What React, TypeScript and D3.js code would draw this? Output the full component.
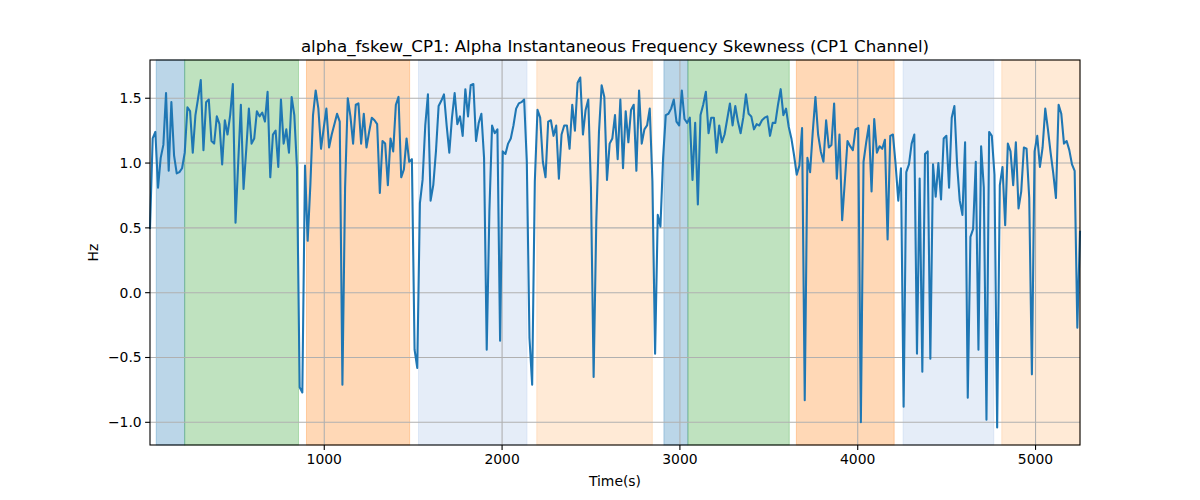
import { useEffect, useRef } from "react";
import * as d3 from "d3";

// sampled values, evenly spaced in time from T_START to T_END
const T_START = 20;
const T_END = 5250;

const skewValues: number[] = [
    0.50, 1.19, 1.24, 0.81, 1.04, 1.14, 1.54, 0.94, 1.47, 1.06, 0.92, 0.93, 0.96, 1.08, 1.43, 1.40,
    1.08, 1.37, 1.50, 1.64, 1.10, 1.47, 1.49, 1.17, 1.15, 1.36, 1.30, 0.99, 1.33, 1.22, 1.37, 1.61,
    0.54, 1.00, 1.45, 0.80, 1.10, 1.42, 1.15, 1.19, 1.40, 1.36, 1.39, 1.32, 1.55,
    0.89, 1.22, 1.25, 0.97, 1.49, 1.15, 1.26, 1.08, 1.51, 1.37, 0.96, -0.73, -0.77, 0.98, 0.40, 0.83,
    1.37, 1.56, 1.42, 1.11, 1.27, 1.42, 1.12, 1.22, 1.30, 1.38, 1.32, -0.71, 0.81, 1.50, 1.36, 1.15,
    1.45, 1.46, 1.15, 1.38, 1.12, 1.24, 1.35, 1.33, 1.30, 0.77, 1.17,
    1.15, 0.83, 1.19, 1.09, 1.45, 1.51, 0.89, 0.95, 1.19, 1.01, 1.03, -0.44, -0.58, 0.69, 0.87, 1.29,
    1.53, 0.71, 0.83, 1.09, 1.44, 1.48, 1.53, 1.29, 1.08, 1.35, 1.54, 1.30, 1.36, 1.21, 1.57, 1.36,
    1.60, 1.61, 1.17, 1.31, 1.38, 1.04, -0.44, 0.63, 1.29, 1.23, 1.26,
    -0.37, 1.09, 1.07, 1.15, 1.19, 1.29, 1.42, 1.46, 1.47, 1.49, 1.01, -0.35, -0.71, 0.86, 1.41, 1.35,
    1.01, 0.89, 1.32, 1.33, 1.21, 1.29, 0.88, 1.22, 1.29, 1.29, 1.11, 1.45, 1.25, 1.62, 1.66, 1.22,
    1.41, 1.49, 0.81, -0.65, 0.55, 1.24, 1.60, 1.51, 0.87, 1.15, 1.19, 1.37,
    1.03, 1.49, 0.96, 1.40, 1.16, 1.41, 1.45, 0.94, 1.56, 1.15, 1.26, 1.29, 1.42, 0.86, -0.47, 0.60,
    0.51, 1.04, 1.37, 1.38, 1.42, 1.49, 1.32, 1.29, 1.56, 1.34, 1.31, 1.35, 0.87, 1.31, 0.68, 1.37,
    1.45, 1.55, 1.23, 1.35, 1.35, 1.08, 1.29, 1.16, 1.22, 1.34, 1.46,
    1.29, 1.44, 1.32, 1.23, 1.35, 1.53, 1.38, 1.36, 1.26, 1.30, 1.29, 1.33, 1.35, 1.36, 1.21, 1.31,
    1.31, 1.45, 1.57, 1.37, 1.42, 1.28, 1.19, 1.06, 0.91, 0.98, 1.27, -0.83, 1.04, 0.93, 1.24, 1.51,
    1.22, 1.09, 1.01, 1.33, 1.12, 1.14, 1.46, 0.88, 1.22, 0.56, 0.86, 1.17, 1.13,
    1.10, 1.26, 1.27, -1.00, 1.01, 1.16, 1.29, 0.78, 1.34, 1.08, 1.13, 1.11, 1.18, 0.41, 1.21, 1.22,
    0.99, 0.71, 0.96, -0.88, 0.93, 0.99, 1.15, 1.22, -0.47, 0.88, -0.61, 1.07, 1.09, -0.51, 0.99, 0.74,
    1.00, 0.72, 1.19, 1.21, 0.81, 1.35, 1.44, 0.99, 0.71, 0.60, 1.16,
    -0.81, 0.43, 0.49, 1.01, -0.44, 1.13, 0.81, -0.98, 1.24, 1.21, 0.91, -1.04, 0.83, 0.97, 0.52, 1.15,
    1.09, 0.83, 1.16, 0.65, 0.78, 1.12, 1.11, 0.73, -0.63, 1.09, 1.21, 0.97, 1.12, 1.42, 1.26, 1.08,
    0.92, 0.73, 1.45, 1.38, 1.15, 1.17, 1.10, 0.99, 0.94, -0.27, 0.47,
];

// shaded segments: [start, end, kind]
const spanStarts = [55, 215, 900, 1530, 2195, 2910, 3045, 3655, 4255, 4810];
const spanEnds = [215, 855, 1480, 2140, 2845, 3045, 3615, 4205, 4765, 5250];
const spanKinds = ["blue", "green", "orange", "lightblue", "lightorange", "blue", "green", "orange", "lightblue", "lightorange"];

const xTicks = [1000, 2000, 3000, 4000, 5000];
const yTicks = [-1.0, -0.5, 0.0, 0.5, 1.0, 1.5];

const spanColor = (kind: string) => {
    switch (kind) {
        case "blue":
            return { fill: "#1f77b4", opacity: 0.3 };
        case "green":
            return { fill: "#2ca02c", opacity: 0.3 };
        case "orange":
            return { fill: "#ff7f0e", opacity: 0.3 };
        case "lightblue":
            return { fill: "#aec7e8", opacity: 0.32 };
        default:
            return { fill: "#ffbb78", opacity: 0.3 };
    }
};

const App = () => {
    const svgRef = useRef<SVGSVGElement>(null);

    useEffect(() => {
        if (!svgRef.current) return;
        const width = 1200;
        const height = 500;
        const margin = { top: 60, right: 120, bottom: 55, left: 150 };
        const innerWidth = width - margin.left - margin.right;
        const innerHeight = height - margin.top - margin.bottom;

        const svg = d3.select(svgRef.current);
        svg.selectAll("*").remove();
        svg.attr("width", width).attr("height", height);

        const step = (T_END - T_START) / (skewValues.length - 1);
        const data = skewValues.map((v, i) => ({ t: T_START + i * step, v }));

        const xScale = d3.scaleLinear().domain([T_START, T_END]).range([0, innerWidth]);
        const [lo, hi] = d3.extent(skewValues) as [number, number];
        const pad = (hi - lo) * 0.05;
        const yScale = d3.scaleLinear().domain([lo - pad, hi + pad]).range([innerHeight, 0]);

        const font = "DejaVu Sans, sans-serif";
        const g = svg.append("g").attr("transform", `translate(${margin.left},${margin.top})`);

        // Spans
        spanStarts.forEach((s, i) => {
            const c = spanColor(spanKinds[i]);
            g.append("rect")
                .attr("x", xScale(s))
                .attr("y", 0)
                .attr("width", xScale(spanEnds[i]) - xScale(s))
                .attr("height", innerHeight)
                .attr("fill", c.fill)
                .attr("fill-opacity", c.opacity)
                .attr("stroke", c.fill)
                .attr("stroke-opacity", c.opacity)
                .attr("stroke-width", 1);
        });

        // Grid
        xTicks.forEach((t) => {
            g.append("line")
                .attr("x1", xScale(t)).attr("x2", xScale(t))
                .attr("y1", 0).attr("y2", innerHeight)
                .attr("stroke", "#b0b0b0").attr("stroke-width", 1.1);
        });
        yTicks.forEach((t) => {
            g.append("line")
                .attr("x1", 0).attr("x2", innerWidth)
                .attr("y1", yScale(t)).attr("y2", yScale(t))
                .attr("stroke", "#b0b0b0").attr("stroke-width", 1.1);
        });

        // Line
        const line = d3.line<{ t: number; v: number }>()
            .x((d) => xScale(d.t))
            .y((d) => yScale(d.v));
        g.append("path")
            .datum(data)
            .attr("d", line)
            .attr("fill", "none")
            .attr("stroke", "#1f77b4")
            .attr("stroke-width", 2.08)
            .attr("stroke-linejoin", "round")
            .attr("stroke-linecap", "square");

        // Frame
        g.append("rect")
            .attr("x", 0).attr("y", 0)
            .attr("width", innerWidth).attr("height", innerHeight)
            .attr("fill", "none")
            .attr("stroke", "#000").attr("stroke-width", 1.1);

        // X ticks
        xTicks.forEach((t) => {
            g.append("line")
                .attr("x1", xScale(t)).attr("x2", xScale(t))
                .attr("y1", innerHeight).attr("y2", innerHeight + 4.9)
                .attr("stroke", "#000").attr("stroke-width", 1.1);
            g.append("text")
                .attr("x", xScale(t))
                .attr("y", innerHeight + 19)
                .attr("text-anchor", "middle")
                .attr("font-family", font)
                .attr("font-size", "13.9px")
                .attr("fill", "#000")
                .text(String(t));
        });

        // Y ticks
        const fmt = d3.format(".1f");
        yTicks.forEach((t) => {
            g.append("line")
                .attr("x1", -4.9).attr("x2", 0)
                .attr("y1", yScale(t)).attr("y2", yScale(t))
                .attr("stroke", "#000").attr("stroke-width", 1.1);
            g.append("text")
                .attr("x", -8.3)
                .attr("y", yScale(t))
                .attr("dy", "0.35em")
                .attr("text-anchor", "end")
                .attr("font-family", font)
                .attr("font-size", "13.9px")
                .attr("fill", "#000")
                .text(fmt(t).replace("-", "\u2212"));
        });

        // Title and labels
        svg.append("text")
            .attr("x", margin.left + innerWidth / 2)
            .attr("y", 52)
            .attr("text-anchor", "middle")
            .attr("font-family", font)
            .attr("font-size", "16.7px")
            .attr("fill", "#000")
            .text("alpha_fskew_CP1: Alpha Instantaneous Frequency Skewness (CP1 Channel)");

        svg.append("text")
            .attr("x", margin.left + innerWidth / 2)
            .attr("y", 486)
            .attr("text-anchor", "middle")
            .attr("font-family", font)
            .attr("font-size", "13.9px")
            .attr("fill", "#000")
            .text("Time(s)");

        svg.append("text")
            .attr("transform", `translate(98,${margin.top + innerHeight / 2}) rotate(-90)`)
            .attr("text-anchor", "middle")
            .attr("font-family", font)
            .attr("font-size", "13.9px")
            .attr("fill", "#000")
            .text("Hz");
    }, []);

    return (
        <div style={{ position: "absolute", left: 0, top: 0, width: 1200, height: 500, background: "#fff" }}>
            <svg ref={svgRef} style={{ display: "block" }} />
        </div>
    );
};

export default App;
